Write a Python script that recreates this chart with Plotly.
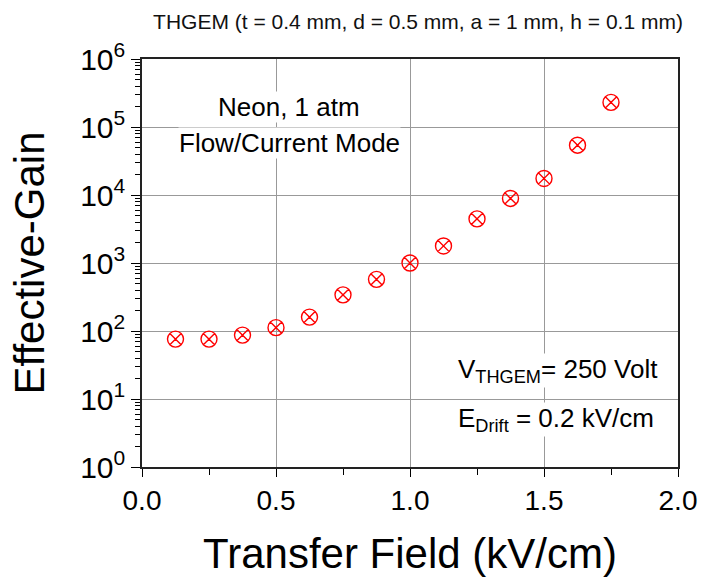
import plotly.graph_objects as go

# ---- data ----
transfer_field = [0.125, 0.25, 0.375, 0.5, 0.625, 0.75, 0.875, 1.0, 1.125, 1.25, 1.375, 1.5, 1.625, 1.75]
effective_gain = [76, 76, 87, 112, 160, 340, 575, 1000, 1780, 4450, 8900, 17500, 54000, 230000]

y_tickvals = [1, 10, 100, 1000, 1e4, 1e5, 1e6]
y_exponents = ["0", "1", "2", "3", "4", "5", "6"]
y_ticktext = ["10<sup>%s</sup>" % e for e in y_exponents]
y_minor_tickvals = [m * 10 ** k for k in range(6) for m in range(2, 10)]

title_text = "THGEM (t = 0.4 mm, d = 0.5 mm, a = 1 mm, h = 0.1 mm)"
FONT = "Liberation Sans, Arial, sans-serif"

fig = go.Figure()
fig.add_trace(go.Scatter(
    x=transfer_field, y=effective_gain, mode="markers",
    marker=dict(symbol="circle-x-open", size=16, color="#ff0000",
                line=dict(color="#ff0000", width=1.4)),
    showlegend=False,
))

fig.update_layout(
    width=703, height=579,
    margin=dict(l=142, r=25, t=59, b=112),
    paper_bgcolor="white", plot_bgcolor="white",
    font=dict(family=FONT, color="black"),
    title=dict(text=title_text, x=418 / 703, xanchor="center", y=1 - 22 / 579, yanchor="middle",
               font=dict(size=21, family=FONT, color="#111")),
)

fig.update_xaxes(
    range=[0, 2], tickmode="linear", tick0=0, dtick=0.5, tickformat=".1f",
    ticks="outside", ticklen=8, tickwidth=1.2, tickcolor="black",
    minor=dict(ticks="outside", ticklen=6, tickmode="linear", tick0=0, dtick=0.25,
               tickcolor="black", tickwidth=1.2, showgrid=False),
    showline=True, linecolor="#222", linewidth=1.5, mirror=True,
    showgrid=True, gridcolor="#999", gridwidth=1,
    tickfont=dict(size=28, family=FONT),
    title=dict(text="Transfer Field (kV/cm)", font=dict(size=42, family=FONT), standoff=23),
    zeroline=False, automargin=False,
)

fig.update_yaxes(
    type="log", range=[0, 6], tickmode="array", tickvals=y_tickvals, ticktext=y_ticktext,
    ticks="outside", ticklen=9, tickwidth=1.2, tickcolor="black",
    minor=dict(ticks="outside", ticklen=5, tickmode="array", tickvals=y_minor_tickvals,
               tickcolor="black", tickwidth=1, showgrid=False),
    showline=True, linecolor="#222", linewidth=1.5, mirror=True,
    showgrid=True, gridcolor="#999", gridwidth=1,
    tickfont=dict(size=30, family=FONT),
    title=dict(text="Effective-Gain", font=dict(size=42, family=FONT), standoff=22),
    zeroline=False, automargin=False,
)

ann_font = dict(size=26, family=FONT, color="black")
fig.add_annotation(x=0.549, y=5.29, xref="x", yref="y", text="Neon, 1 atm", showarrow=False,
                   font=ann_font, bgcolor="white", borderpad=0)
fig.add_annotation(x=0.549, y=4.76, xref="x", yref="y", text="Flow/Current Mode", showarrow=False,
                   font=ann_font, bgcolor="white", borderpad=0)
fig.add_annotation(x=1.175, y=1.42, xref="x", yref="y", xanchor="left",
                   text="V<sub>THGEM</sub>= 250 Volt",
                   showarrow=False, font=dict(size=26, family=FONT, color="black"),
                   bgcolor="white", borderpad=0)
fig.add_annotation(x=1.175, y=0.70, xref="x", yref="y", xanchor="left",
                   text="E<sub>Drift</sub> = 0.2 kV/cm",
                   showarrow=False, font=dict(size=26, family=FONT, color="black"),
                   bgcolor="white", borderpad=0)

fig.write_html("out.html")
